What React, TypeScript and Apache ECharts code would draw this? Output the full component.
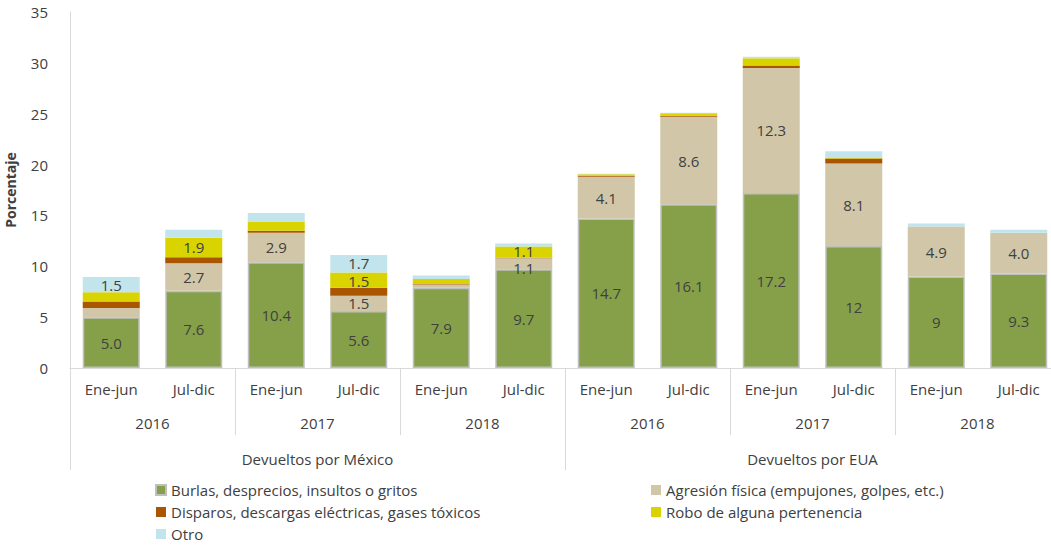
import React, { useEffect, useRef } from "react";
import * as echarts from "echarts";

const periods = ["Ene-jun", "Jul-dic", "Ene-jun", "Jul-dic", "Ene-jun", "Jul-dic", "Ene-jun", "Jul-dic", "Ene-jun", "Jul-dic", "Ene-jun", "Jul-dic"];
const years = ["2016", "2017", "2018", "2016", "2017", "2018"];
const groups = ["Devueltos por México", "Devueltos por EUA"];

const seriesNames = [
  "Burlas, desprecios, insultos o gritos",
  "Agresión física (empujones, golpes, etc.)",
  "Disparos, descargas eléctricas, gases tóxicos",
  "Robo de alguna pertenencia",
  "Otro",
];

const burlas = [5.0, 7.6, 10.4, 5.6, 7.9, 9.7, 14.7, 16.1, 17.2, 12, 9, 9.3];
const agresion = [0.9, 2.7, 2.9, 1.5, 0.3, 1.1, 4.1, 8.6, 12.3, 8.1, 4.9, 4.0];
const disparos = [0.65, 0.6, 0.2, 0.8, 0.05, 0.05, 0.1, 0.1, 0.25, 0.5, 0.0, 0.0];
const robo = [0.9, 1.9, 0.9, 1.5, 0.5, 1.1, 0.15, 0.25, 0.7, 0.1, 0.0, 0.0];
const otro = [1.5, 0.8, 0.85, 1.7, 0.35, 0.3, 0.05, 0.05, 0.15, 0.6, 0.3, 0.3];

const burlasLabels = ["5.0", "7.6", "10.4", "5.6", "7.9", "9.7", "14.7", "16.1", "17.2", "12", "9", "9.3"];
const agresionLabels = ["", "2.7", "2.9", "1.5", "", "1.1", "4.1", "8.6", "12.3", "8.1", "4.9", "4.0"];
const disparosLabels = ["", "", "", "", "", "", "", "", "", "", "", ""];
const roboLabels = ["", "1.9", "", "1.5", "", "1.1", "", "", "", "", "", ""];
const otroLabels = ["1.5", "", "", "1.7", "", "", "", "", "", "", "", ""];

const colors = ["#86A04A", "#D1C7A8", "#AA5500", "#D9D400", "#C2E4EC"];

const FONT = "'Open Sans', Lato, sans-serif";
const TXT = "#404040";

// small label nudges [seriesIndex, dataIndex, dy]
const labelNudges: [number, number, number][] = [
  [1, 5, 4],
  [3, 5, -1],
  [3, 3, 1],
  [4, 3, -1],
];

export default function App() {
  const ref = useRef<HTMLDivElement>(null);
  useEffect(() => {
    if (!ref.current) return;
    const chart = echarts.init(ref.current, undefined, { renderer: "svg" });
    const allValues = [burlas, agresion, disparos, robo, otro];
    const allLabels = [burlasLabels, agresionLabels, disparosLabels, roboLabels, otroLabels];
    const series = seriesNames.map((name, i) => ({
      name,
      type: "bar",
      stack: "total",
      xAxisIndex: 0,
      barWidth: 57,
      data: allValues[i].map((v, j) => {
        const n = labelNudges.find((k) => k[0] === i && k[1] === j);
        return n ? { value: v, label: { offset: [0, n[2]] } } : v;
      }),
      itemStyle: i === 0
        ? { color: colors[i], borderColor: "#BFBFBF", borderWidth: 1.5 }
        : { color: colors[i] },
      label: {
        show: true,
        position: "inside",
        fontFamily: FONT,
        fontSize: 15,
        lineHeight: 13,
        color: TXT,
        formatter: (p: any) => allLabels[i][p.dataIndex],
      },
    }));
    const legendText = { fontFamily: FONT, fontSize: 15, color: TXT, lineHeight: 16 };
    chart.setOption({
      animation: false,
      textStyle: { fontFamily: FONT },
      grid: { left: 70, right: -9, top: 12, bottom: 177, containLabel: false, outerBoundsMode: "none" },
      legend: [
        {
          data: [seriesNames[0], seriesNames[2], seriesNames[4]],
          orient: "vertical",
          left: 150,
          top: 477,
          height: 120,
          itemWidth: 10,
          itemHeight: 10,
          itemGap: 6,
          icon: "rect",
          textStyle: legendText,
        },
        {
          data: [seriesNames[1], seriesNames[3]],
          orient: "vertical",
          left: 646,
          top: 477,
          height: 120,
          itemWidth: 10,
          itemHeight: 10,
          itemGap: 6,
          icon: "rect",
          textStyle: legendText,
        },
      ],
      xAxis: [
        {
          type: "category",
          data: periods,
          position: "bottom",
          axisLine: { show: true, lineStyle: { color: "#D9D9D9", width: 1 } },
          axisTick: { show: false },
          axisLabel: { margin: 13, fontSize: 15, color: TXT, fontFamily: FONT, interval: 0 },
        },
        {
          type: "category",
          data: years,
          position: "bottom",
          axisLine: { show: false },
          axisTick: { show: true, length: 67, interval: 0, lineStyle: { color: "#D9D9D9" } },
          axisLabel: { margin: 47, fontSize: 15, color: TXT, fontFamily: FONT, interval: 0 },
        },
        {
          type: "category",
          data: groups,
          position: "bottom",
          axisLine: { show: false },
          axisTick: { show: true, length: 102, interval: 0, lineStyle: { color: "#D9D9D9" } },
          axisLabel: { margin: 83, fontSize: 15, color: TXT, fontFamily: FONT, interval: 0 },
        },
      ],
      yAxis: {
        type: "value",
        min: 0,
        max: 35,
        interval: 5,
        name: "Porcentaje",
        nameLocation: "middle",
        nameGap: 53,
        nameRotate: 90,
        nameTextStyle: { fontSize: 14, fontWeight: "bold", color: TXT, fontFamily: FONT },
        axisLine: { show: true, lineStyle: { color: "#D9D9D9" } },
        axisTick: { show: false },
        splitLine: { show: false },
        axisLabel: { margin: 22, fontSize: 15, color: TXT, fontFamily: FONT },
      },
      series,
    });
    return () => chart.dispose();
  }, []);
  return (
    <div
      ref={ref}
      style={{ position: "fixed", left: 0, top: 0, width: 1051, height: 545, background: "#fff" }}
    />
  );
}
